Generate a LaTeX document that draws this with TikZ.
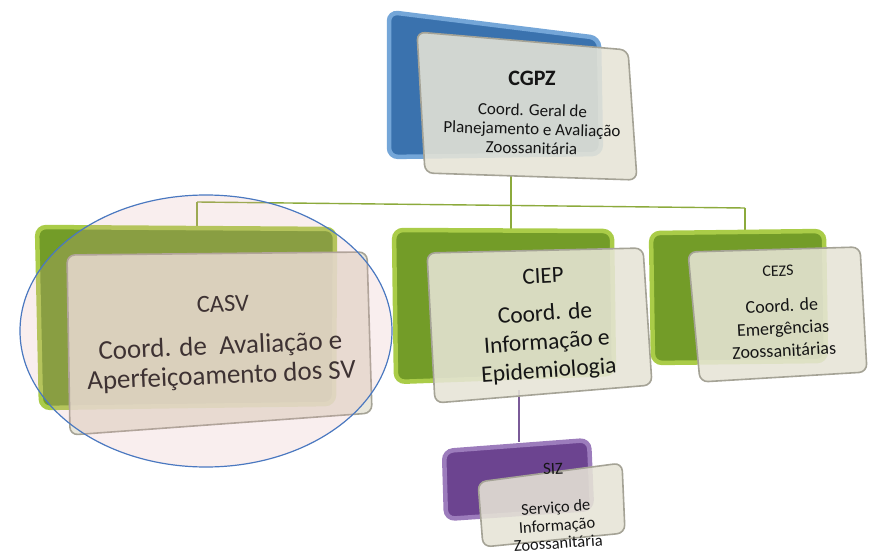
\documentclass[tikz,border=0pt]{standalone}
\usepackage{fontspec}
\setmainfont{Carlito}
\definecolor{gback}{HTML}{739C28}
\definecolor{gedge}{HTML}{AACC48}
\definecolor{bback}{HTML}{3A72AE}
\definecolor{bedge}{HTML}{74A6D8}
\definecolor{pback}{HTML}{6C4490}
\definecolor{pedge}{HTML}{9C7CBC}
\definecolor{frontc}{HTML}{E6E4D6}
\definecolor{frontedge}{HTML}{A5A396}
\definecolor{gline}{HTML}{8CAA3C}
\definecolor{pline}{HTML}{7A5A98}
\definecolor{ellfill}{HTML}{E3A8AC}
\definecolor{elledge}{HTML}{4A78C0}
\definecolor{txt}{HTML}{151515}
\begin{document}
\begin{tikzpicture}[x=1pt,y=-1pt,
  backbox/.style={rounded corners=9pt, line width=4.5pt, draw=#1edge, fill=#1back},
  frontbox/.style={rounded corners=8pt, line width=1.6pt, draw=frontedge, fill=frontc, fill opacity=0.88},
  gconn/.style={draw=gline, line width=1.4pt},
  pconn/.style={draw=pline, line width=1.6pt},
  lbl/.style={inner sep=0pt, align=center, text=txt},
  ]
\useasboundingbox (0,0) rectangle (869,556);

% connector points
\coordinate (cgpzbot) at (511,176);
\coordinate (busm) at (511,204);
\coordinate (busl) at (197,202);
\coordinate (busr) at (745,208);
\coordinate (casvtop) at (197,227);
\coordinate (cieptop) at (511,230);
\coordinate (cezstop) at (745,232);
\coordinate (ciepbot) at (519,390);
\coordinate (siztop) at (519,442);

\draw[gconn] (cgpzbot) -- (busm);
\draw[gconn] (busl) -- (busr);
\draw[gconn] (busl) -- (casvtop);
\draw[gconn] (busm) -- (cieptop);
\draw[gconn] (busr) -- (cezstop);
\draw[pconn] (ciepbot) -- (siztop);

% CGPZ
\draw[backbox=b] (389,12) -- (599,38) -- (601,154) -- (389,157) -- cycle;
\draw[frontbox] (417,32) -- (628,50) -- (637,180) -- (425,173) -- cycle;
\node[lbl, font=\fontsize{22}{24}\selectfont\bfseries] (cgpzt) at (532,78) {CGPZ};
\node[lbl, rotate=-1.5, font=\fontsize{17}{19}\selectfont] (cgpzd) at (532,129) {Coord. Geral de\\Planejamento e Avaliação\\Zoossanitária};

% CASV
\draw[backbox=g] (37,227) -- (335,229) -- (334,404) -- (41,408) -- cycle;
\draw[frontbox] (67,255) -- (367,252) -- (372,413) -- (70,435) -- cycle;
\node[lbl, rotate=2, font=\fontsize{24.5}{26}\selectfont] (casvt) at (223,304) {CASV};
\node[lbl, rotate=2.5, font=\fontsize{27}{29.5}\selectfont] (casvd) at (221,362) {Coord. de\ \ Avaliação e\\Aperfeiçoamento dos SV};

% CIEP
\draw[backbox=g] (394,230) -- (612,231) -- (614,374) -- (396,382) -- cycle;
\draw[frontbox] (427,253) -- (643,248) -- (652,385) -- (435,403) -- cycle;
\node[lbl, rotate=3, font=\fontsize{23}{24}\selectfont] (ciept) at (543,276) {CIEP};
\node[lbl, rotate=4, font=\fontsize{23.5}{28.5}\selectfont] (ciepd) at (547,343) {Coord. de\\Informação e\\Epidemiologia};

% CEZS
\draw[backbox=g] (651,233) -- (824,231) -- (826,361) -- (653,363) -- cycle;
\draw[frontbox] (688,252) -- (860,247) -- (867,372) -- (700,382) -- cycle;
\node[lbl, rotate=2, font=\fontsize{16}{18}\selectfont] (cezst) at (778,271) {CEZS};
\node[lbl, rotate=3, font=\fontsize{18}{22.5}\selectfont] (cezsd) at (783,328) {Coord. de\\Emergências\\Zoossanitárias};

% SIZ
\draw[backbox=p] (444,451) -- (589,440) -- (592,509) -- (446,519) -- cycle;
\draw[frontbox] (478,482) -- (622,463) -- (625,533) -- (483,547) -- cycle;
\node[lbl, rotate=3, font=\fontsize{17}{18}\selectfont] (sizt) at (553,469) {SIZ};
\node[lbl, rotate=4, font=\fontsize{16.5}{18}\selectfont] (sizd) at (557,525) {Serviço de\\Informação\\Zoossanitária};

% highlight ellipse
\draw[draw=elledge, line width=1.2pt, fill=ellfill, fill opacity=0.2] (206,331) ellipse [x radius=186, y radius=136];
\end{tikzpicture}
\end{document}
